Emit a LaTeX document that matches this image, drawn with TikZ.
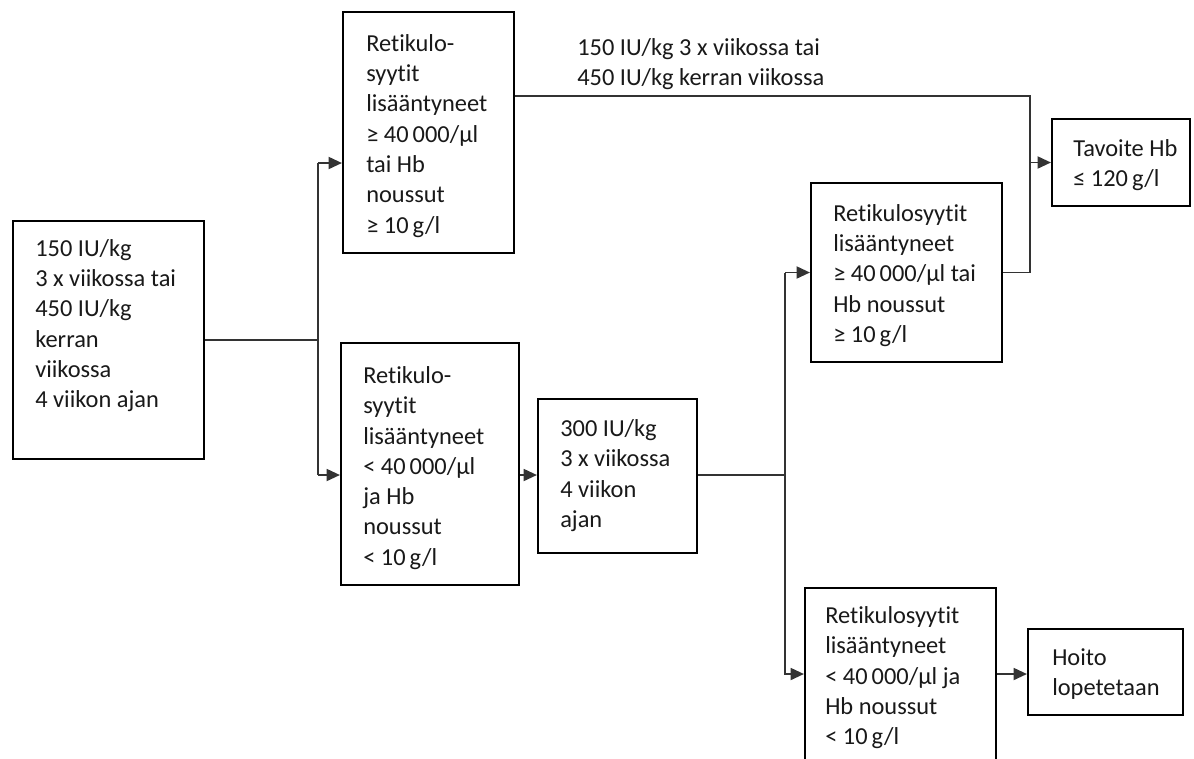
\documentclass[tikz,border=0pt]{standalone}
\usepackage{fontspec}
\setmainfont{Carlito}[Ligatures={NoCommon,NoRare,NoContextual}]
\usetikzlibrary{arrows.meta,fit}
\begin{document}
\begin{tikzpicture}[x=0.75pt,y=-0.75pt,
  box/.style={draw=black,line width=1.6pt,inner sep=0pt},
  txt/.style={anchor=north west,inner sep=0pt,align=left,font=\fontsize{18.3}{22.7}\selectfont,text=black!90},
  conn/.style={draw=black!80,line width=1.4pt},
  arr/.style={conn,-{Triangle[length=10pt,width=9pt]}}]
\clip (0,0) rectangle (1194,758);
\fill[white] (0,0) rectangle (1194,758);
% boxes
\node[box,fit={(13,221) (204,459)}] (b1) {};
\node[box,fit={(343,12) (514,253)}] (b2) {};
\node[box,fit={(341,343) (519,585)}] (b3) {};
\node[box,fit={(538,399) (697,553)}] (b4) {};
\node[box,fit={(811,183) (1002,362)}] (b5) {};
\node[box,fit={(805,588) (996,800)}] (b6) {};
\node[box,fit={(1052,119) (1190,206)}] (b7) {};
\node[box,fit={(1028,629) (1183,715)}] (b8) {};
% texts
\node[txt] (t1) at (35,235) {\strut 150 IU/kg\\3 x viikossa tai\\450 IU/kg\\kerran\\viikossa\\4 viikon ajan};
\node[txt] (t2) at (366,30) {\strut Retikulo-\\syytit\\lisääntyneet\\≥ 40\,000/µl\\tai Hb\\noussut\\≥ 10\,g/l};
\node[txt] (t3) at (363,362) {\strut Retikulo-\\syytit\\lisääntyneet\\< 40\,000/µl\\ja Hb\\noussut\\< 10\,g/l};
\node[txt] (t4) at (560,415) {\strut 300 IU/kg\\3 x viikossa\\4 viikon\\ajan};
\node[txt] (t5) at (833,200) {\strut Retikulosyytit\\lisääntyneet\\≥ 40\,000/µl tai\\Hb noussut\\≥ 10\,g/l};
\node[txt] (t6) at (825,602) {\strut Retikulosyytit\\lisääntyneet\\< 40\,000/µl ja\\Hb noussut\\< 10\,g/l};
\node[txt] (t7) at (1073,135) {\strut Tavoite Hb\\≤ 120\,g/l};
\node[txt] (t8) at (1052,644) {\strut Hoito\\lopetetaan};
\node[txt] (lab) at (577,34) {\strut 150 IU/kg 3 x viikossa tai\\450 IU/kg kerran viikossa};
% junctions
\coordinate (j1) at (318,340);
\coordinate (j1a) at (318,163);
\coordinate (j1b) at (318,475);
\coordinate (j2) at (785,475);
\coordinate (j2b) at (785,674);
\coordinate (j3a) at (1030,96);
\coordinate (j3m) at (1030,162.5);
% connectors
\draw[conn] (b1.east) -- (j1);
\draw[conn] (j1a) -- (j1b);
\draw[arr] (j1a) -- (b2.west |- j1a);
\draw[arr] (j1b) -- (b3.west |- j1b);
\draw[arr] (b3.east |- j1b) -- (b4.west |- j1b);
\draw[conn] (b4.east |- j2) -- (j2);
\draw[conn] (j2) -- (j2 |- b5.west);
\draw[arr] (j2 |- b5.west) -- (b5.west);
\draw[arr] (j2) |- (b6.west |- j2b);
\draw[arr] (b6.east |- j2b) -- (b8.west |- j2b);
\draw[conn] (b2.east |- j3a) -- (j3a) |- (b5.east);
\draw[arr] (j3m) -- (b7.west);
\end{tikzpicture}
\end{document}
